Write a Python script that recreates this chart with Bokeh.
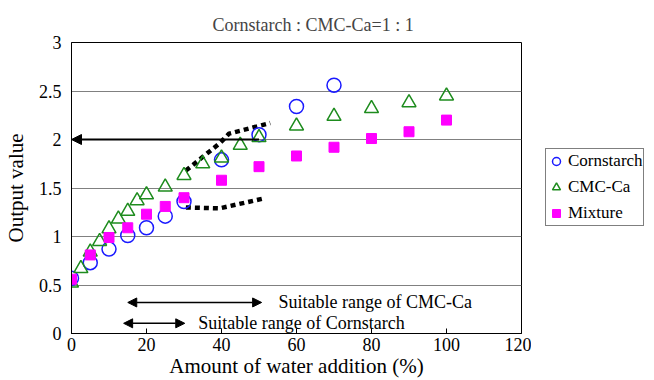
from bokeh.plotting import figure
from bokeh.layouts import row
from bokeh.models import (Arrow, NormalHead, Label, Legend, LegendItem,
                          FixedTicker, Range1d)
from bokeh.embed import file_html
from bokeh.resources import INLINE

FONT = "Liberation Serif"

# ---- data ----
x_corn = [0, 5, 10, 15, 20, 25, 30, 40, 50, 60, 70]
y_corn = [0.57, 0.73, 0.87, 1.01, 1.09, 1.21, 1.36, 1.79, 2.05, 2.34, 2.56]

x_cmc = [0, 2.5, 5, 7.5, 10, 12.5, 15, 17.5, 20, 25, 30, 35, 40, 45, 50,
         60, 70, 80, 90, 100]
y_cmc = [0.52, 0.67, 0.84, 0.95, 1.08, 1.18, 1.26, 1.37, 1.43, 1.51, 1.63,
         1.75, 1.81, 1.94, 2.02, 2.14, 2.24, 2.32, 2.38, 2.45]

x_mix = [0, 5, 10, 15, 20, 25, 30, 40, 50, 60, 70, 80, 90, 100]
y_mix = [0.56, 0.81, 0.99, 1.09, 1.23, 1.31, 1.40, 1.58, 1.72, 1.83, 1.92,
         2.01, 2.08, 2.20]

series_names = ["Cornstarch", "CMC-Ca", "Mixture"]

x_ticks = [0, 20, 40, 60, 80, 100, 120]
y_ticks = [0, 0.5, 1, 1.5, 2, 2.5, 3]
y_tick_labels = ["0", "0.5", "1", "1.5", "2", "2.5", "3"]

# annotation geometry (data units)
upper_dot_x = [30.5, 39.5, 42, 53]
upper_dot_y = [1.68, 1.96, 2.06, 2.17]
lower_dot_x = [30.5, 39.5, 51]
lower_dot_y = [1.30, 1.29, 1.39]
arrow_y2 = dict(x_start=50, x_end=0, y=2.0)
range_cmc = dict(x0=15, x1=50.7, y=0.32, text_x=55.2,
                 text="Suitable range of CMC-Ca")
range_corn = dict(x0=13.9, x1=30.2, y=0.105, text_x=33.8,
                  text="Suitable range of Cornstarch")

H = 380
styles = [
    dict(marker="circle", size=14, fill_color=None, line_color="#1a1aff", line_width=1.5),
    dict(marker="triangle", size=14, fill_color=None, line_color="#1e8c1e", line_width=1.5),
    dict(marker="square", size=10, fill_color="#ff00ff", line_color="#ff00ff"),
]

p = figure(width=531, height=H, output_backend="svg", toolbar_location=None,
           x_range=Range1d(0, 120), y_range=Range1d(0, 3),
           min_border_left=71, min_border_right=10, min_border_top=42,
           min_border_bottom=47, title="Cornstarch : CMC-Ca=1 : 1")

p.title.text_font = FONT
p.title.text_font_size = "18px"
p.title.text_font_style = "normal"
p.title.align = "left"
p.title.offset = 141
p.title.standoff = 15

p.outline_line_color = "black"
p.outline_line_width = 1

p.xgrid.visible = False
p.ygrid.ticker = FixedTicker(ticks=y_ticks)
p.ygrid.grid_line_color = "#808080"
p.ygrid.grid_line_width = 1

p.xaxis.ticker = FixedTicker(ticks=x_ticks)
p.yaxis.ticker = FixedTicker(ticks=y_ticks)
p.yaxis.major_label_overrides = {t: l for t, l in zip(y_ticks, y_tick_labels)}

for ax in (p.xaxis[0], p.yaxis[0]):
    ax.axis_line_color = "black"
    ax.major_label_text_font = FONT
    ax.major_label_text_font_size = "18px"
    ax.major_label_text_color = "black"
    ax.axis_label_text_font = FONT
    ax.axis_label_text_font_size = "21px"
    ax.axis_label_text_font_style = "normal"
    ax.axis_label_text_color = "black"
    ax.minor_tick_line_color = None
    ax.major_tick_out = 0

p.xaxis.major_tick_in = 5
p.xaxis.major_tick_line_color = "black"
p.yaxis.major_tick_in = 0
p.xaxis.major_label_standoff = 4
p.xaxis.axis_label_standoff = 0
p.yaxis.major_label_standoff = 10
p.yaxis.axis_label_standoff = 8
p.xaxis.axis_label = "Amount of water addition (%)"
p.yaxis.axis_label = "Output value"

# dotted guide curves
p.line(upper_dot_x, upper_dot_y, line_color="black", line_width=4.5, line_dash="5 4")
p.line(lower_dot_x, lower_dot_y, line_color="black", line_width=4.5, line_dash="5 4")

for xs, ys, st in zip((x_corn, x_cmc, x_mix), (y_corn, y_cmc, y_mix), styles):
    p.scatter(xs, ys, **st)

# arrow pointing to y = 2
p.add_layout(Arrow(end=NormalHead(size=10, fill_color="black", line_color="black"),
                   x_start=arrow_y2["x_start"], y_start=arrow_y2["y"],
                   x_end=arrow_y2["x_end"], y_end=arrow_y2["y"],
                   line_color="black", line_width=2))

for rg in (range_cmc, range_corn):
    p.add_layout(Arrow(start=NormalHead(size=9, fill_color="black", line_color="black"),
                       end=NormalHead(size=9, fill_color="black", line_color="black"),
                       x_start=rg["x0"], y_start=rg["y"], x_end=rg["x1"], y_end=rg["y"],
                       line_color="black", line_width=1.5))
    p.add_layout(Label(x=rg["text_x"], y=rg["y"], text=rg["text"],
                       text_font=FONT, text_font_size="18px",
                       text_baseline="middle", text_color="black"))

# ---- legend panel (separate figure so it is not clipped by the plot frame) ----
lg = figure(width=116, height=H, output_backend="svg", toolbar_location=None,
            x_range=Range1d(0, 1), y_range=Range1d(0, 1), min_border=0)
lg.axis.visible = False
lg.grid.visible = False
lg.outline_line_color = None
items = []
for name, st in zip(series_names, styles):
    r = lg.scatter([float("nan")], [float("nan")], **st)
    items.append(LegendItem(label=name, renderers=[r]))

legend = Legend(items=items, location=(14, 107), padding=0, spacing=2,
                glyph_width=20, glyph_height=24, label_height=24,
                label_standoff=2, label_text_font="'Liberation Serif', serif",
                label_text_font_size="17px", label_text_color="black",
                border_line_color="black",
                border_line_width=1, background_fill_alpha=1,
                background_fill_color="white")
lg.add_layout(legend, "center")

layout = row(p, lg)
open("out.html", "w").write(file_html(layout, INLINE))
